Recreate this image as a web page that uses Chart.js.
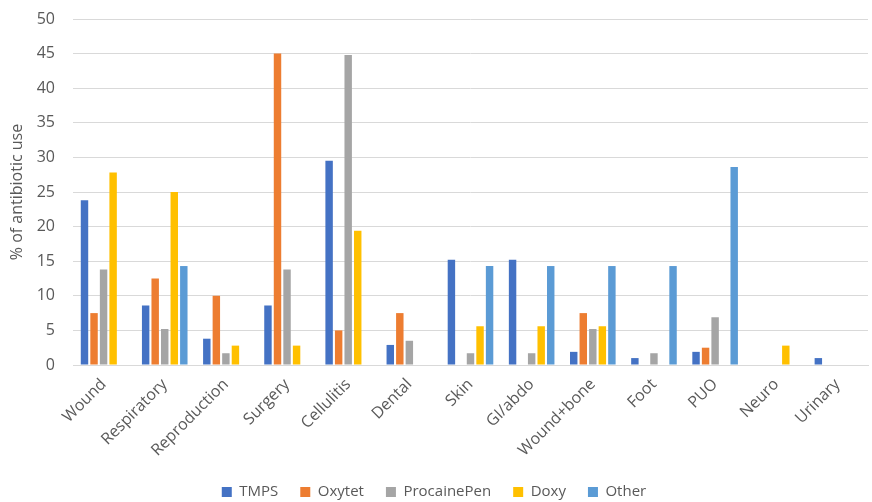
<!DOCTYPE html>
<html>
<head>
<meta charset="utf-8">
<script src="https://cdn.jsdelivr.net/npm/chart.js@4/dist/chart.umd.min.js"></script>
<style>
  html, body { margin: 0; padding: 0; background: #ffffff; }
  #wrap { width: 872px; height: 502px; position: relative; }
</style>
</head>
<body>
<div id="wrap"><canvas id="c" width="872" height="502"></canvas></div>
<script>
// Indication categories along the x axis
const categories = ['Wound', 'Respiratory', 'Reproduction', 'Surgery', 'Cellulitis', 'Dental',
  'Skin', 'GI/abdo', 'Wound+bone', 'Foot', 'PUO', 'Neuro', 'Urinary'];

// % of antibiotic use per indication, one array per antibiotic
const tmps        = [23.8, 8.6, 3.8, 8.6, 29.5, 2.9, 15.2, 15.2, 1.9, 1.0, 1.9, 0, 1.0];
const oxytet      = [7.5, 12.5, 10.0, 45.0, 5.0, 7.5, 0, 0, 7.5, 0, 2.5, 0, 0];
const procainePen = [13.8, 5.2, 1.7, 13.8, 44.8, 3.5, 1.7, 1.7, 5.2, 1.7, 6.9, 0, 0];
const doxy        = [27.8, 25.0, 2.8, 2.8, 19.4, 0, 5.6, 5.6, 5.6, 0, 0, 2.8, 0];
const other       = [0, 14.3, 0, 0, 0, 0, 14.3, 14.3, 14.3, 14.3, 28.6, 0, 0];

const yTicks = [0, 5, 10, 15, 20, 25, 30, 35, 40, 45, 50];

const FONT = '"Open Sans", "Liberation Sans", sans-serif';
const TXT = '#595959';

function series(label, data, color) {
  return { label, data, backgroundColor: color, borderWidth: 0,
           categoryPercentage: 0.78, barPercentage: 0.78 };
}

new Chart(document.getElementById('c'), {
  type: 'bar',
  data: {
    labels: categories,
    datasets: [
      series('TMPS', tmps, '#4472C4'),
      series('Oxytet', oxytet, '#ED7D31'),
      series('ProcainePen', procainePen, '#A5A5A5'),
      series('Doxy', doxy, '#FFC000'),
      series('Other', other, '#5B9BD5')
    ]
  },
  options: {
    responsive: false,
    animation: false,
    layout: { padding: { top: 19, right: 4, left: 0, bottom: -7.5 } },
    plugins: {
      tooltip: { enabled: false },
      legend: {
        position: 'bottom',
        labels: {
          color: TXT,
          font: { family: FONT, size: 15 },
          boxWidth: 10, boxHeight: 10,
          padding: 22
        }
      }
    },
    scales: {
      x: {
        grid: { display: false },
        border: { color: '#D9D9D9' },
        ticks: {
          color: TXT, font: { family: FONT, size: 16 },
          minRotation: 45, maxRotation: 45, padding: 2
        },
        afterFit(scale) {
          scale.height = 97.5;
          scale.paddingLeft = 0;
          scale.paddingRight = 0;
        }
      },
      y: {
        min: 0, max: 50,
        afterBuildTicks(scale) { scale.ticks = yTicks.map(v => ({ value: v })); },
        grid: { color: '#D9D9D9', lineWidth: 1, drawTicks: false },
        border: { display: false },
        ticks: { color: TXT, font: { family: FONT, size: 16 }, padding: 18 },
        title: {
          display: true, text: '% of antibiotic use',
          color: TXT, font: { family: FONT, size: 16 }, padding: 8
        },
        afterFit(scale) {
          scale.width = 73;
          scale.paddingTop = 0;
          scale.paddingBottom = 0;
        }
      }
    }
  }
});
</script>
</body>
</html>
